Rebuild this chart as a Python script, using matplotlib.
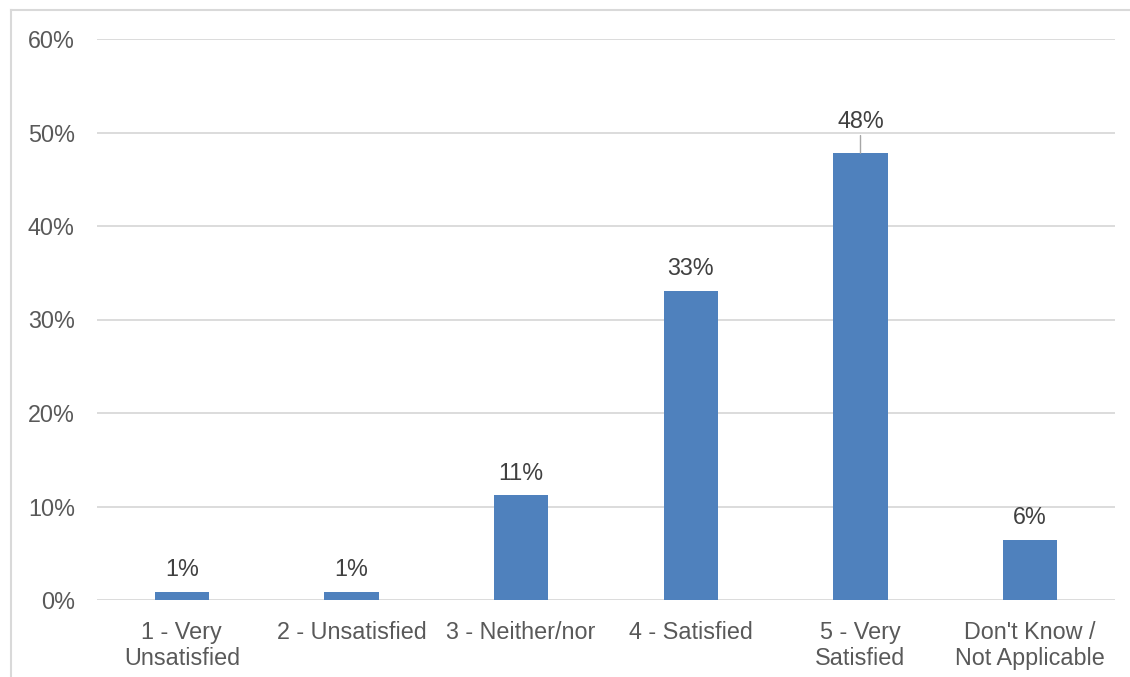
import matplotlib.pyplot as plt
from matplotlib.lines import Line2D
from matplotlib.ticker import PercentFormatter

plt.rcParams['font.family'] = ['Liberation Sans', 'DejaVu Sans']

# satisfaction survey responses (share of respondents)
categories = ["1 - Very\nUnsatisfied", "2 - Unsatisfied", "3 - Neither/nor",
              "4 - Satisfied", "5 - Very\nSatisfied", "Don't Know /\nNot Applicable"]
shares = [0.9, 0.9, 11.2, 33.1, 47.8, 6.4]
y_ticks = [0, 10, 20, 30, 40, 50, 60]

bar_color = "#4f81bd"
grid_color = "#d9d9d9"
tick_color = "#595959"
label_color = "#404040"
fs = 16.8

W, H = 1130, 677
fig = plt.figure(figsize=(W / 100, H / 100), dpi=100)
ax = fig.add_axes([97 / W, (H - 600) / H, (1115 - 97) / W, (600 - 39) / H])

x = list(range(len(categories)))
bars = ax.bar(x, shares, width=0.32, color=bar_color, zorder=3)

ax.set_xlim(-0.5, len(categories) - 0.5)
ax.set_ylim(0, 60)
ax.set_yticks(y_ticks)
ax.yaxis.set_major_formatter(PercentFormatter(decimals=0))
ax.set_xticks(x)
ax.set_xticklabels(categories, linespacing=1.2)

ax.grid(axis="y", color=grid_color, linewidth=1.3, zorder=0)
for side in ["top", "right", "left", "bottom"]:
    ax.spines[side].set_visible(False)
ax.tick_params(axis="both", length=0, labelsize=fs, colors=tick_color)
ax.tick_params(axis="y", pad=16)
ax.tick_params(axis="x", pad=15)

# value labels; the tallest one sits above the 50% line with a leader
for i, (b, v) in enumerate(zip(bars, shares)):
    cx = b.get_x() + b.get_width() / 2
    if v > 45:
        ax.annotate(f"{v:.0f}%", xy=(cx, v), xytext=(cx, v + 3.4),
                    ha="center", va="center", fontsize=fs, color=label_color,
                    arrowprops=dict(arrowstyle="-", color="#a6a6a6", lw=1,
                                    shrinkA=17, shrinkB=0))
    else:
        ax.annotate(f"{v:.0f}%", xy=(cx, v), xytext=(0, 16),
                    textcoords="offset points", ha="center", va="center",
                    fontsize=fs, color=label_color)

# chart frame, only top and left edges show
fig.add_artist(Line2D([11 / W, 1.0], [1 - 10 / H, 1 - 10 / H],
                      color=grid_color, lw=1.5, transform=fig.transFigure))
fig.add_artist(Line2D([11 / W, 11 / W], [0, 1 - 10 / H],
                      color=grid_color, lw=1.5, transform=fig.transFigure))

fig.savefig("out.png", dpi=100)
